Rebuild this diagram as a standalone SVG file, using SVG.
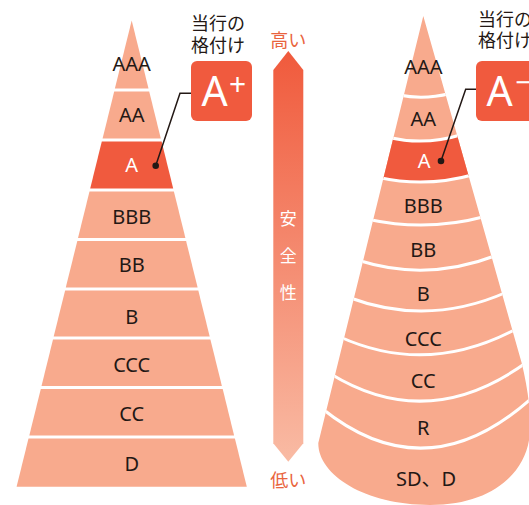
<svg xmlns="http://www.w3.org/2000/svg" width="529" height="505" viewBox="0 0 529 505">
<defs>
<style>
.band{fill:#f8aa8d}
.hi{fill:#f05a3e}
.div{stroke:#fff;stroke-width:3;fill:none}
.lbl{font-family:"Noto Sans","Noto Sans CJK JP",sans-serif;font-size:20px;fill:#231815;text-anchor:middle}
.w{fill:#fff}
.jp{font-family:"Noto Sans CJK JP",sans-serif;font-size:18px;fill:#231815}
.or{font-family:"Noto Sans CJK JP",sans-serif;font-size:18px;fill:#e9643e;text-anchor:middle}
.vt{font-family:"Noto Sans CJK JP",sans-serif;font-size:17px;fill:#fff;text-anchor:middle}
.big{font-family:"Noto Sans",sans-serif;font-size:41px;fill:#fff;text-anchor:middle}
.sup{font-family:"Noto Sans",sans-serif;font-size:30px;fill:#fff}
.lead{stroke:#231815;stroke-width:1.5;fill:none}
.dot{fill:#231815}
</style>
<linearGradient id="g" x1="0" y1="51" x2="0" y2="462" gradientUnits="userSpaceOnUse">
<stop offset="0" stop-color="#f05a3c"/>
<stop offset="1" stop-color="#f9bba4"/>
</linearGradient>
<clipPath id="cr">
<path d="M423.3 16 L318.3 443 C318 475 365 505 430 505 C495 505 529 470 530 430 C531 410 527 385 521.7 363 Z"/>
</clipPath>
</defs>

<g id="pyramid-left">
<g id="l-AAA"><polygon class="band" points="131.7,20.5 148.5,88.5 114.9,88.5"/><text class="lbl" x="131.7" y="70.5">AAA</text></g>
<g id="l-AA"><polygon class="band" points="114.2,91.5 149.2,91.5 160.8,138.5 102.6,138.5"/><text class="lbl" x="131.7" y="121.5">AA</text></g>
<g id="l-A"><polygon class="hi" points="101.8,141.5 161.6,141.5 173.2,188.5 90.2,188.5"/><text class="lbl w" x="131.7" y="171.5">A</text></g>
<g id="l-BBB"><polygon class="band" points="89.5,191.5 173.9,191.5 185.4,238 78,238"/><text class="lbl" x="131.7" y="224">BBB</text></g>
<g id="l-BB"><polygon class="band" points="77.3,241 186.1,241 197.6,287.5 65.8,287.5"/><text class="lbl" x="131.7" y="272">BB</text></g>
<g id="l-B"><polygon class="band" points="65.1,290.5 198.3,290.5 209.7,336.5 53.7,336.5"/><text class="lbl" x="131.7" y="324">B</text></g>
<g id="l-CCC"><polygon class="band" points="53,339.5 210.4,339.5 221.9,386 41.5,386"/><text class="lbl" x="131.7" y="371.5">CCC</text></g>
<g id="l-CC"><polygon class="band" points="40.8,389 222.7,389 234.1,435.5 29.3,435.5"/><text class="lbl" x="131.7" y="421">CC</text></g>
<g id="l-D"><polygon class="band" points="28.5,438.5 234.9,438.5 246.8,486.7 16.6,486.7"/><text class="lbl" x="131.7" y="471">D</text></g>
</g>

<g id="badge-left">
<text class="jp" x="191" y="30">当行の</text>
<text class="jp" x="191" y="51.5">格付け</text>
<rect x="191" y="61" width="61" height="60" rx="6" fill="#f05a3e"/>
<text class="big" x="214.5" y="106">A</text>
<text class="sup" x="237.5" y="95" text-anchor="middle">+</text>
</g>

<g id="safety-arrow">
<polygon points="288.3,51 303.3,70 303.3,443.3 288.3,461.7 273.3,443.3 273.3,70" fill="url(#g)"/>
<text class="or" x="288.3" y="47">高い</text>
<text class="vt" x="288.3" y="225">安</text>
<text class="vt" x="288.3" y="262">全</text>
<text class="vt" x="288.3" y="299">性</text>
<text class="or" x="288.3" y="487">低い</text>
</g>

<g id="pyramid-right">
<g clip-path="url(#cr)">
<rect class="band" x="300" y="0" width="240" height="505"/>
<path class="hi" d="M389 137.5 Q425 146 462 134.5 L474 174.5 Q426 188 379 177.5 Z"/>
<path class="div" d="M399 95 Q424 100 450 93.5"/>
<path class="div" d="M389 137.5 Q425 146 462 134.5"/>
<path class="div" d="M379 177.5 Q426 188 474 174.5"/>
<path class="div" d="M369 219.5 Q427 232 485 216.5"/>
<path class="div" d="M359 260.5 Q427 282 496 255.5"/>
<path class="div" d="M349 297.5 Q428 327 507 292"/>
<path class="div" d="M339 336.5 Q428 377 518 328"/>
<path class="div" d="M330 373.5 Q428 434 527 362"/>
<path class="div" d="M322 408.5 Q428 494 535 395"/>
</g>
<g id="r-AAA"><text class="lbl" x="423.3" y="74">AAA</text></g>
<g id="r-AA"><text class="lbl" x="423.3" y="126">AA</text></g>
<g id="r-A"><text class="lbl w" x="424.2" y="168">A</text></g>
<g id="r-BBB"><text class="lbl" x="423.3" y="213">BBB</text></g>
<g id="r-BB"><text class="lbl" x="423.3" y="257">BB</text></g>
<g id="r-B"><text class="lbl" x="423.3" y="300.5">B</text></g>
<g id="r-CCC"><text class="lbl" x="423.3" y="346">CCC</text></g>
<g id="r-CC"><text class="lbl" x="423.3" y="388">CC</text></g>
<g id="r-R"><text class="lbl" x="423.3" y="435">R</text></g>
<g id="r-SDD"><text class="lbl" x="426" y="486">SD、D</text></g>
</g>

<g id="badge-right">
<text class="jp" x="478" y="26">当行の</text>
<text class="jp" x="478" y="47">格付け</text>
<rect x="476" y="61" width="70" height="60" rx="6" fill="#f05a3e"/>
<text class="big" x="499.5" y="106">A</text>
<text class="sup" x="515" y="93">−</text>
</g>

<g id="connectors">
<polyline class="lead" points="191,93.3 180,93.3 155.7,165.7"/>
<circle class="dot" cx="155.7" cy="165.7" r="3.3"/>
<polyline class="lead" points="476,89.3 465.7,89.3 441,161"/>
<circle class="dot" cx="441" cy="161" r="3.3"/>
</g>
</svg>
